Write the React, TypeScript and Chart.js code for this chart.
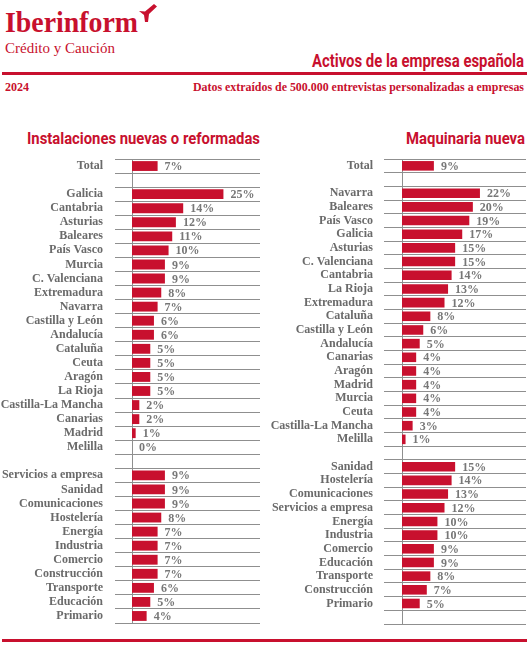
import React, { useEffect, useRef } from "react";
import { Chart, registerables } from "chart.js";

Chart.register(...registerables);

const RED = "#c8102e";
const GRID = "#8f8f8f";
const LABEL_GRAY = "#6a6a6a";
const VALUE_GRAY = "#777777";

// Instalaciones nuevas o reformadas
const instTotal = 7;
const instRegions = [
  "Galicia", "Cantabria", "Asturias", "Baleares", "País Vasco", "Murcia",
  "C. Valenciana", "Extremadura", "Navarra", "Castilla y León", "Andalucía",
  "Cataluña", "Ceuta", "Aragón", "La Rioja", "Castilla-La Mancha", "Canarias",
  "Madrid", "Melilla",
];
const instRegionValues = [25, 14, 12, 11, 10, 9, 9, 8, 7, 6, 6, 5, 5, 5, 5, 2, 2, 1, 0];
const instSectors = [
  "Servicios a empresa", "Sanidad", "Comunicaciones", "Hostelería", "Energía",
  "Industria", "Comercio", "Construcción", "Transporte", "Educación", "Primario",
];
const instSectorValues = [9, 9, 9, 8, 7, 7, 7, 7, 6, 5, 4];

// Maquinaria nueva
const maqTotal = 9;
const maqRegions = [
  "Navarra", "Baleares", "País Vasco", "Galicia", "Asturias", "C. Valenciana",
  "Cantabria", "La Rioja", "Extremadura", "Cataluña", "Castilla y León",
  "Andalucía", "Canarias", "Aragón", "Madrid", "Murcia", "Ceuta",
  "Castilla-La Mancha", "Melilla",
];
const maqRegionValues = [22, 20, 19, 17, 15, 15, 14, 13, 12, 8, 6, 5, 4, 4, 4, 4, 4, 3, 1];
const maqSectors = [
  "Sanidad", "Hostelería", "Comunicaciones", "Servicios a empresa", "Energía",
  "Industria", "Comercio", "Educación", "Transporte", "Construcción", "Primario",
];
const maqSectorValues = [15, 14, 13, 12, 10, 10, 9, 9, 8, 7, 5];

const X_MAX = 35;

function buildRows(total: number, regions: string[], regionValues: number[], sectors: string[], sectorValues: number[], trailingBlank: boolean) {
  const labels: string[] = ["Total", "", ...regions, "", ...sectors];
  const values: (number | null)[] = [total, null, ...regionValues, null, ...sectorValues];
  if (trailingBlank) {
    labels.push("");
    values.push(null);
  }
  return { labels, values };
}

const valueLabels = {
  id: "valueLabels",
  afterDatasetsDraw(chart: any) {
    const { ctx } = chart;
    const meta = chart.getDatasetMeta(0);
    const data = chart.data.datasets[0].data as (number | null)[];
    ctx.save();
    ctx.font = 'bold 12px "Liberation Serif"';
    ctx.fillStyle = VALUE_GRAY;
    ctx.textBaseline = "middle";
    ctx.textAlign = "left";
    meta.data.forEach((el: any, i: number) => {
      const v = data[i];
      if (v === null || v === undefined) return;
      ctx.fillText(`${v}%`, el.x + 7, el.y + 1);
    });
    ctx.restore();
  },
};

type PanelProps = {
  labels: string[];
  values: (number | null)[];
  left: number;
  width: number;
  axisX: number;
  padRight: number;
  padBottom: number;
  tickLength: number;
  labelPadding: number;
};

function BarPanel({ labels, values, left, width, axisX, padRight, padBottom, tickLength, labelPadding }: PanelProps) {
  const ref = useRef<HTMLCanvasElement | null>(null);

  useEffect(() => {
    if (!ref.current) return;
    const chart = new Chart(ref.current, {
      type: "bar",
      data: {
        labels,
        datasets: [
          {
            data: values,
            backgroundColor: RED,
            borderWidth: 0,
            barPercentage: 0.7,
            categoryPercentage: 1,
          },
        ],
      },
      options: {
        indexAxis: "y",
        responsive: false,
        maintainAspectRatio: false,
        animation: false,
        layout: { padding: { top: 9, bottom: padBottom, left: 0, right: padRight } },
        plugins: { legend: { display: false }, tooltip: { enabled: false } },
        scales: {
          x: { type: "linear", min: 0, max: X_MAX, display: false },
          y: {
            type: "category",
            offset: true,
            grid: { offset: true, color: GRID, lineWidth: 1, drawTicks: true, tickLength },
            border: { display: true, color: GRID, width: 1 },
            ticks: {
              autoSkip: false,
              padding: labelPadding,
              color: LABEL_GRAY,
              font: { family: "Liberation Serif", weight: "bold", size: 12 },
            },
            afterFit: (scale: any) => {
              scale.width = axisX;
              scale.paddingTop = 0;
              scale.paddingBottom = 0;
            },
          },
        },
      } as any,
      plugins: [valueLabels],
    });
    return () => chart.destroy();
  }, [labels, values]);

  return (
    <canvas
      ref={ref}
      width={width}
      height={485}
      style={{ position: "absolute", left, top: 150, width, height: 485 }}
    />
  );
}

const instRows = buildRows(instTotal, instRegions, instRegionValues, instSectors, instSectorValues, false);
const maqRows = buildRows(maqTotal, maqRegions, maqRegionValues, maqSectors, maqSectorValues, true);

export default function App() {
  return (
    <div style={{ position: "absolute", left: 0, top: 0, width: 529, height: 646, background: "#fff", overflow: "hidden" }}>
      <svg width={529} height={646} style={{ position: "absolute", left: 0, top: 0 }}>
        <text x={5} y={32} fontFamily="Liberation Serif" fontWeight="bold" fontSize={30} fill={RED} textLength={133} lengthAdjust="spacingAndGlyphs">
          Iberinform
        </text>
        <polygon points="139,11 145,11.5 154,4 157,6.5 149,14 148,22 145,22 144,15" fill={RED} />
        <text x={5} y={53} fontFamily="Liberation Serif" fontSize={15} fill={RED}>
          Crédito y Caución
        </text>
        <text x={524} y={66.5} textAnchor="end" fontFamily="Roboto" fontWeight="bold" fontSize={18} fill={RED} textLength={212} lengthAdjust="spacingAndGlyphs">
          Activos de la empresa española
        </text>
        <rect x={2} y={72} width={525} height={3} fill={RED} />
        <text x={5} y={91} fontFamily="Liberation Serif" fontWeight="bold" fontSize={12} fill={RED}>
          2024
        </text>
        <text x={524} y={91} textAnchor="end" fontFamily="Liberation Serif" fontWeight="bold" fontSize={12} fill={RED} textLength={331} lengthAdjust="spacingAndGlyphs">
          Datos extraídos de 500.000 entrevistas personalizadas a empresas
        </text>
        <text x={27} y={143.5} fontFamily="Roboto" fontWeight="bold" fontSize={17} fill={RED} textLength={233} lengthAdjust="spacingAndGlyphs">
          Instalaciones nuevas o reformadas
        </text>
        <text x={525} y={143.5} textAnchor="end" fontFamily="Roboto" fontWeight="bold" fontSize={17} fill={RED} textLength={119} lengthAdjust="spacingAndGlyphs">
          Maquinaria nueva
        </text>
        <rect x={2} y={639} width={525} height={3} fill={RED} />
      </svg>
      <BarPanel
        labels={instRows.labels}
        values={instRows.values}
        left={0}
        width={265}
        axisX={132}
        padRight={5}
        padBottom={12}
        tickLength={17}
        labelPadding={12}
      />
      <BarPanel
        labels={maqRows.labels}
        values={maqRows.values}
        left={265}
        width={264}
        axisX={137}
        padRight={3}
        padBottom={11}
        tickLength={18}
        labelPadding={11}
      />
    </div>
  );
}
